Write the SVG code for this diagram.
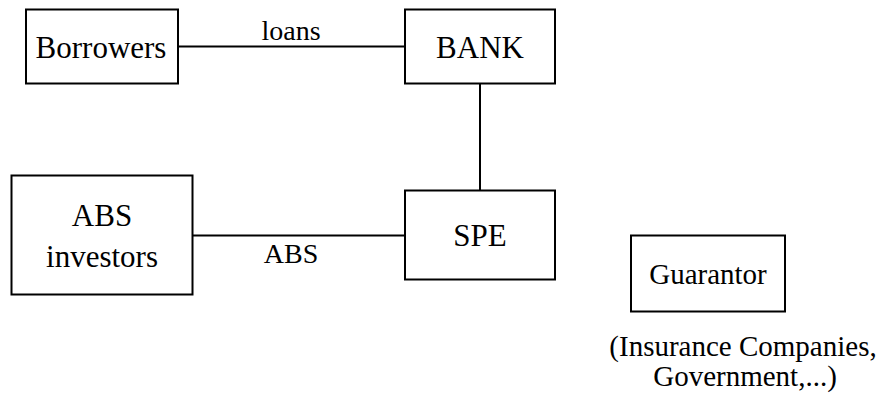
<svg xmlns="http://www.w3.org/2000/svg" width="879" height="398" viewBox="0 0 879 398">
<style>
.box{fill:#fff;stroke:#000;stroke-width:2}
.ln{stroke:#000;stroke-width:2;fill:none}
.t{font-family:'Liberation Serif','Times New Roman',serif;fill:#000;text-anchor:middle}
.n{font-size:31px}
.l{font-size:28px}
.g{font-size:29px}
</style>
<rect width="879" height="398" fill="#fff"/>
<g id="connectors">
<line class="ln" x1="178" y1="46.5" x2="405" y2="46.5"/>
<text class="t l" x="291" y="40">loans</text>
<line class="ln" x1="480" y1="84" x2="480" y2="190"/>
<line class="ln" x1="193" y1="235.5" x2="405" y2="235.5"/>
<text class="t l" x="291" y="263">ABS</text>
</g>
<g id="borrowers">
<rect class="box" x="26" y="9.5" width="152" height="74"/>
<text class="t n" x="101" y="58">Borrowers</text>
</g>
<g id="bank">
<rect class="box" x="405" y="9.5" width="150" height="74"/>
<text class="t n" x="480" y="58">BANK</text>
</g>
<g id="abs-investors">
<rect class="box" x="11.5" y="175.5" width="181" height="119"/>
<text class="t n" x="102" y="226">ABS</text>
<text class="t n" x="102" y="267">investors</text>
</g>
<g id="spe">
<rect class="box" x="405" y="190.5" width="150" height="89"/>
<text class="t n" x="480" y="246">SPE</text>
</g>
<g id="guarantor">
<rect class="box" x="631" y="235.5" width="154" height="76"/>
<text class="t g" x="708" y="284">Guarantor</text>
<text class="t g" x="743" y="356">(Insurance Companies,</text>
<text class="t g" x="745" y="386">Government,...)</text>
</g>
</svg>
